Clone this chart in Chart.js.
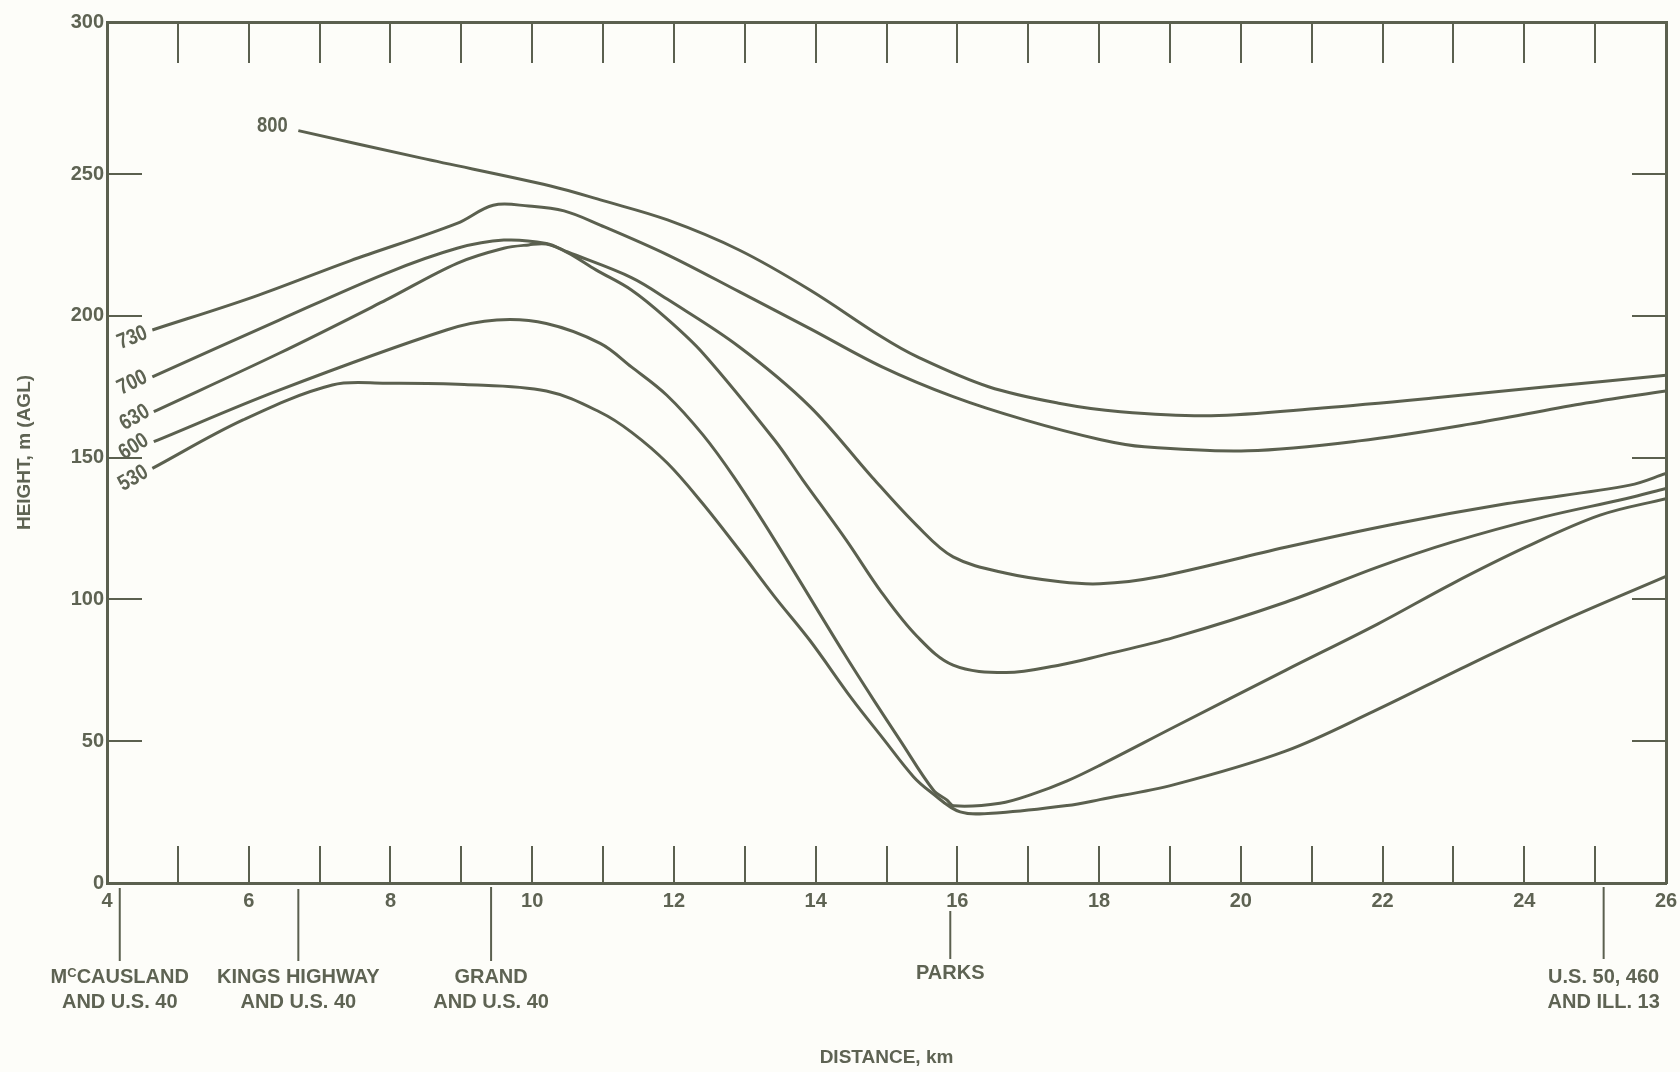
<!DOCTYPE html>
<html>
<head>
<meta charset="utf-8">
<script src="https://cdn.jsdelivr.net/npm/chart.js@4.4.1/dist/chart.umd.min.js"></script>
<style>
  html, body { margin: 0; padding: 0; background: #fdfdf9; }
  #wrap { width: 1680px; height: 1072px; }
</style>
</head>
<body>
<div id="wrap"><canvas id="main-chart" width="1680" height="1072"></canvas></div>
<script>
// Height (m AGL) against distance (km) along the traverse, one curve per contour label

const contourLabels = ["800", "730", "700", "630", "600", "530"];

const dist800 = [6.70, 8.44, 10.26, 11.0, 11.91, 12.92, 13.92, 14.93, 15.43, 16.44, 17.45, 18.3, 19.58, 21.15, 22.71, 24.28, 26.0];
const h800 = [265.3, 255.6, 245.8, 240.6, 233.8, 223.2, 209.1, 192.6, 185.6, 175.0, 169.1, 166.2, 164.8, 167.5, 171.0, 174.9, 179.0];

const dist730 = [4.64, 6.07, 7.43, 8.94, 9.45, 9.95, 10.45, 10.96, 11.91, 12.92, 13.92, 14.93, 15.94, 16.95, 18.01, 18.64, 20.1, 21.67, 23.23, 24.8, 26.0];
const h730 = [195.0, 206.7, 219.4, 232.6, 239.0, 238.7, 237.0, 232.0, 221.5, 208.5, 195.5, 182.1, 171.5, 163.3, 156.4, 153.8, 152.4, 155.9, 161.8, 168.9, 173.5];

const dist700 = [4.64, 6.43, 7.94, 8.94, 9.6, 10.2, 10.5, 11.4, 11.91, 12.92, 13.92, 14.8, 15.43, 15.94, 16.69, 17.45, 18.01, 18.8, 20.63, 22.19, 23.76, 25.49, 26.0];
const h700 = [178.5, 198.5, 215.0, 223.8, 226.7, 225.5, 222.5, 213.5, 205.8, 189.1, 168.0, 143.0, 126.0, 115.0, 109.2, 106.2, 105.5, 107.8, 118.4, 126.7, 133.8, 140.3, 144.4];

const dist630 = [4.66, 6.43, 7.94, 8.94, 9.6, 9.95, 10.2, 10.5, 10.9, 11.4, 11.9, 12.41, 13.42, 13.82, 14.43, 14.93, 15.43, 15.94, 16.69, 17.45, 18.01, 19.06, 20.63, 21.93, 22.98, 24.28, 25.43, 26.0];
const h630 = [166.2, 186.8, 205.6, 218.5, 223.8, 225.0, 225.3, 222.3, 216.2, 209.1, 199.0, 186.8, 156.2, 142.1, 121.0, 102.5, 87.0, 76.8, 74.2, 76.9, 80.1, 86.6, 99.0, 111.4, 120.2, 129.1, 135.5, 139.1];

const dist600 = [4.66, 6.43, 8.79, 9.5, 10.2, 10.96, 11.4, 11.9, 12.41, 12.85, 13.42, 14.4, 14.82, 15.19, 15.66, 15.85, 15.95, 16.6, 17.07, 17.55, 18.01, 19.06, 20.63, 21.93, 22.98, 24.02, 25.07, 26.0];
const h600 = [155.6, 173.8, 195.0, 198.5, 197.3, 190.3, 182.0, 172.0, 158.0, 143.0, 121.0, 81.0, 64.5, 50.4, 32.8, 29.3, 27.2, 28.1, 31.4, 36.0, 41.5, 55.0, 75.0, 91.3, 105.5, 118.4, 129.7, 135.5];

const dist530 = [4.64, 5.92, 7.18, 7.94, 9.04, 10.2, 10.96, 11.4, 11.91, 12.4, 12.92, 13.42, 13.92, 14.51, 14.95, 15.38, 15.62, 16.04, 16.6, 17.55, 18.01, 19.06, 20.63, 21.88, 23.24, 24.55, 26.0];
const h530 = [146.2, 163.3, 175.6, 176.2, 175.8, 173.5, 166.0, 159.0, 148.0, 134.0, 117.5, 101.0, 85.5, 65.0, 51.0, 37.5, 32.2, 25.1, 24.8, 27.3, 29.4, 34.7, 46.5, 60.6, 77.2, 92.5, 108.1];

const yTickValues = [0, 50, 100, 150, 200, 250, 300];
const xMin = 4, xMax = 26;

// landmarks along the distance axis
const landmarkKm = [4.18, 6.70, 9.42, 15.90, 25.12];
const landmarkNames = [
  ["McCAUSLAND", "AND U.S. 40"],
  ["KINGS HIGHWAY", "AND U.S. 40"],
  ["GRAND", "AND U.S. 40"],
  ["PARKS"],
  ["U.S. 50, 460", "AND ILL. 13"]
];

// ---- styling / layout ----
const INK = "#5b604f";
const TEXT = "#5e6353";
const FONT = '"Liberation Sans", Arial, sans-serif';
const Y_TOP = 303.6; // the drawn frame sits a little above the 300 m level
const landmarkLineTop = [888, 889, 887, 911, 887];
const landmarkLineBottom = [961, 961, 961, 959, 959];
const landmarkTextY = [977, 1002];
const parksTextY = 973;
// label offset from first point [dx, dy, degrees]
const contourLabelPlace = [[-26, -5, 0], [-20, 8, -22], [-20, 6, -26], [-19, 6, -30], [-20, 5, -32], [-19, 10, -30]];

const seriesX = [dist800, dist730, dist700, dist630, dist600, dist530];
const seriesY = [h800, h730, h700, h630, h600, h530];

const datasets = contourLabels.map((lab, i) => ({
  label: lab,
  data: seriesX[i].map((x, j) => ({ x, y: seriesY[i][j] })),
  showLine: true,
  borderColor: INK,
  borderWidth: 3,
  pointRadius: 0,
  tension: 0.35,
  fill: false
}));

const contourLabelPlugin = {
  id: "contourLabels",
  afterDatasetsDraw(chart) {
    const ctx = chart.ctx;
    ctx.save();
    ctx.fillStyle = TEXT;
    ctx.font = `bold 20px ${FONT}`;
    ctx.textAlign = "center";
    ctx.textBaseline = "middle";
    chart.data.datasets.forEach((ds, i) => {
      const p = chart.getDatasetMeta(i).data[0];
      const [dx, dy, deg] = contourLabelPlace[i];
      ctx.save();
      ctx.translate(p.x + dx, p.y + dy);
      ctx.rotate(deg * Math.PI / 180);
      ctx.scale(0.92, 1.1);
      ctx.fillText(ds.label, 0, 0);
      ctx.restore();
    });
    ctx.restore();
  }
};

function drawName(ctx, text, cx, cy) {
  const big = `bold 20px ${FONT}`, small = `bold 13px ${FONT}`;
  if (text.startsWith("Mc")) {
    ctx.font = big;
    const wM = ctx.measureText("M").width;
    const rest = text.slice(2);
    const wR = ctx.measureText(rest).width;
    ctx.font = small;
    const wC = ctx.measureText("C").width;
    const x = cx - (wM + wC + wR) / 2;
    ctx.textAlign = "left";
    ctx.font = big;
    ctx.fillText("M", x, cy);
    ctx.font = small;
    ctx.fillText("C", x + wM, cy - 4);
    ctx.font = big;
    ctx.fillText(rest, x + wM + wC, cy);
    ctx.textAlign = "center";
  } else {
    ctx.font = big;
    ctx.fillText(text, cx, cy);
  }
}

const landmarkPlugin = {
  id: "landmarks",
  afterDraw(chart) {
    const ctx = chart.ctx;
    const xs = chart.scales.x;
    ctx.save();
    ctx.strokeStyle = INK;
    ctx.lineWidth = 2;
    ctx.fillStyle = TEXT;
    ctx.textAlign = "center";
    ctx.textBaseline = "middle";
    landmarkKm.forEach((km, i) => {
      const px = xs.getPixelForValue(km);
      ctx.beginPath();
      ctx.moveTo(px, landmarkLineTop[i]);
      ctx.lineTo(px, landmarkLineBottom[i]);
      ctx.stroke();
      const rows = landmarkNames[i];
      rows.forEach((row, j) => {
        const y = rows.length === 1 ? parksTextY : landmarkTextY[j];
        drawName(ctx, row, px, y);
      });
    });
    ctx.restore();
  }
};

const fixedTicks = scale => {
  scale.ticks = yTickValues.map(v => ({ value: v === 300 ? Y_TOP : v }));
};

const tickFont = { family: FONT, size: 20, weight: "bold" };
const titleFont = { family: FONT, size: 19, weight: "bold" };

const chart = new Chart(document.getElementById("main-chart"), {
  type: "scatter",
  data: { datasets },
  options: {
    responsive: false,
    animation: false,
    layout: { padding: { left: 0, top: 22, right: 14, bottom: 0 } },
    plugins: { legend: { display: false }, tooltip: { enabled: false } },
    scales: {
      x: {
        type: "linear",
        position: "bottom",
        min: xMin,
        max: xMax,
        afterFit: s => { s.height = 189; s.paddingLeft = 0; s.paddingRight = 0; },
        ticks: {
          stepSize: 1,
          autoSkip: false,
          maxRotation: 0,
          padding: 43,
          color: TEXT,
          font: tickFont,
          callback: v => (v % 2 === 0 ? String(v) : "")
        },
        grid: { drawOnChartArea: false, tickLength: -37, color: INK, lineWidth: 2 },
        border: { display: true, color: INK, width: 3 },
        title: {
          display: true,
          text: "DISTANCE, km",
          color: TEXT,
          font: titleFont,
          padding: { top: 0, bottom: 3 }
        }
      },
      xTop: {
        type: "linear",
        position: "top",
        min: xMin,
        max: xMax,
        afterFit: s => { s.height = 0; s.paddingLeft = 0; s.paddingRight = 0; },
        ticks: { display: false, stepSize: 1, autoSkip: false },
        grid: { drawOnChartArea: false, tickLength: -41, color: INK, lineWidth: 2 },
        border: { display: true, color: INK, width: 3 }
      },
      y: {
        type: "linear",
        position: "left",
        min: 0,
        max: Y_TOP,
        afterBuildTicks: fixedTicks,
        afterFit: s => { s.width = 107; s.paddingTop = 0; s.paddingBottom = 0; },
        ticks: {
          padding: 38,
          color: TEXT,
          font: tickFont,
          callback: (v, i) => String(yTickValues[i])
        },
        grid: { drawOnChartArea: false, tickLength: -35, color: INK, lineWidth: 2 },
        border: { display: true, color: INK, width: 3 },
        title: {
          display: true,
          text: "HEIGHT, m (AGL)",
          color: TEXT,
          font: titleFont,
          padding: { top: 13, bottom: 0 }
        }
      },
      yRight: {
        type: "linear",
        position: "right",
        min: 0,
        max: Y_TOP,
        afterBuildTicks: fixedTicks,
        afterFit: s => { s.width = 0; s.paddingTop = 0; s.paddingBottom = 0; },
        ticks: { display: false },
        grid: { drawOnChartArea: false, tickLength: -34, color: INK, lineWidth: 2 },
        border: { display: true, color: INK, width: 3 }
      }
    }
  },
  plugins: [contourLabelPlugin, landmarkPlugin]
});
</script>
</body>
</html>
